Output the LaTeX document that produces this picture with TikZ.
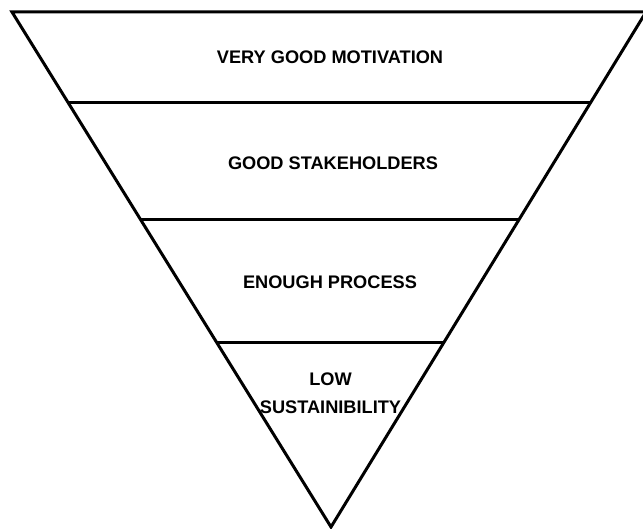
\documentclass[tikz,border=0pt]{standalone}
\usepackage{fontspec}
\setmainfont{Liberation Sans}
\tikzset{
  band/.style={line width=3pt, line cap=butt},
  label/.style={font=\fontsize{18.2}{28.5}\selectfont\bfseries, align=center, inner sep=0pt}
}
\begin{document}
\begin{tikzpicture}[x=1pt,y=-1pt]
\useasboundingbox (0,0) rectangle (643,529);
\coordinate (tl) at (12,12);
\coordinate (tr) at (646,12);
\coordinate (ap) at (331,527);
\begin{scope}
\clip (0,0) rectangle (643,529);
\draw[band, line join=miter] (tl) -- (tr) -- (ap) -- cycle;
\draw[band] (tr) -- (660,12);
\end{scope}
\draw[band] (68.4,103) -- (590.3,103);
\draw[band] (140.8,220) -- (518.8,220);
\draw[band] (216.7,342.5) -- (443.8,342.5);
\node[label] (n1) at (330,57.5) {VERY GOOD MOTIVATION};
\node[label] (n2) at (333,163) {GOOD STAKEHOLDERS};
\node[label] (n3) at (330,282.5) {ENOUGH PROCESS};
\node[label] (n4) at (330.5,393) {LOW\\SUSTAINIBILITY};
\end{tikzpicture}
\end{document}
